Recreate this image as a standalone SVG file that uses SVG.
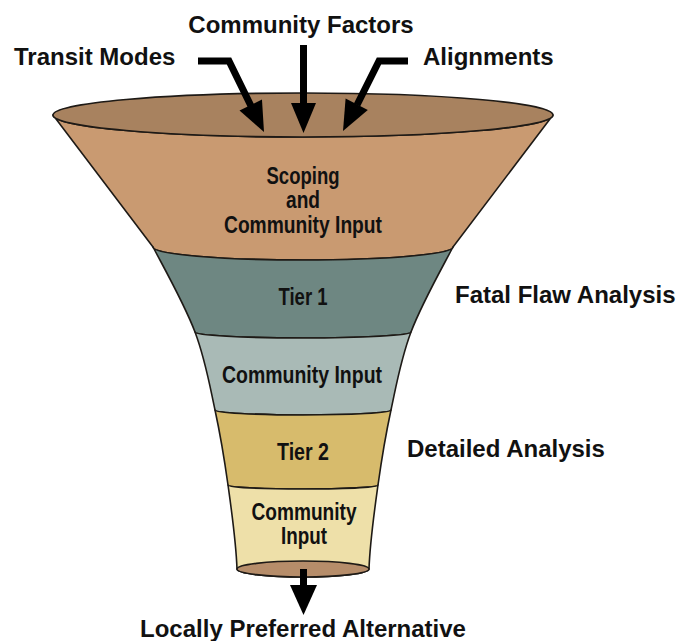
<svg xmlns="http://www.w3.org/2000/svg" width="687" height="641" viewBox="0 0 687 641">
  <style>
    .band { stroke: #1e1a16; stroke-width: 1.6; stroke-linejoin: round; }
    .label { font-family: "Liberation Sans", Arial, sans-serif; font-weight: bold; font-size: 24px; fill: #111; }
    .inner { font-family: "Liberation Sans", Arial, sans-serif; font-weight: bold; font-size: 23px; fill: #111; text-anchor: middle; }
    .shaft { fill: none; stroke: #000; stroke-width: 7; stroke-linejoin: miter; }
    .head { fill: #000; }
  </style>

  <rect width="687" height="641" fill="#fff"/>

  <!-- Funnel bands, top to bottom -->
  <g id="scoping">
    <path class="band" fill="#c99a71" d="M53,115 A250,22 0 0 0 553,115 L453,247 A150,13 0 0 1 153,247 Z"/>
    <ellipse class="band" cx="303" cy="115" rx="250" ry="22" fill="#a8825f"/>
    <text class="inner" x="303" y="184" textLength="73" lengthAdjust="spacingAndGlyphs">Scoping</text>
    <text class="inner" x="303" y="208" textLength="34" lengthAdjust="spacingAndGlyphs">and</text>
    <text class="inner" x="303" y="233" textLength="158" lengthAdjust="spacingAndGlyphs">Community Input</text>
  </g>

  <g id="tier1">
    <path class="band" fill="#6e8782" d="M153,247 A150,13 0 0 0 453,247 C438,275.3 421.3,304.8 411,332 A108,6 0 0 1 195,332 C184.7,304.8 168,275.3 153,247 Z"/>
    <text class="inner" x="303" y="305" textLength="49" lengthAdjust="spacingAndGlyphs">Tier 1</text>
  </g>

  <g id="community-input-1">
    <path class="band" fill="#a9bab6" d="M195,332 A108,6 0 0 0 411,332 C400.7,359.2 396.5,384.5 391,410 A88,5 0 0 1 215,410 C209.5,384.5 205.3,359.2 195,332 Z"/>
    <text class="inner" x="302" y="383" textLength="160" lengthAdjust="spacingAndGlyphs">Community Input</text>
  </g>

  <g id="tier2">
    <path class="band" fill="#d7bb6c" d="M215,410 A88,5 0 0 0 391,410 C385.5,435.5 381.7,458.5 378,485 A75,4 0 0 1 228,485 C224.3,458.5 220.5,435.5 215,410 Z"/>
    <text class="inner" x="303" y="460" textLength="52" lengthAdjust="spacingAndGlyphs">Tier 2</text>
  </g>

  <g id="community-input-2">
    <path class="band" fill="#eee0a9" d="M228,485 A75,4 0 0 0 378,485 C374.3,511.5 370,541 369,569 A66,8 0 0 1 237,569 C236,541 231.7,511.5 228,485 Z"/>
    <ellipse class="band" cx="303" cy="569" rx="66" ry="8" fill="#b68d6a"/>
    <text class="inner" x="304" y="520" textLength="105" lengthAdjust="spacingAndGlyphs">Community</text>
    <text class="inner" x="304" y="544" textLength="46" lengthAdjust="spacingAndGlyphs">Input</text>
  </g>

  <!-- Input and stage labels -->
  <g id="transit-modes"><text class="label" x="14" y="65">Transit Modes</text></g>
  <g id="community-factors"><text class="label" x="301" y="33" text-anchor="middle">Community Factors</text></g>
  <g id="alignments"><text class="label" x="423" y="65">Alignments</text></g>
  <g id="fatal-flaw"><text class="label" x="455" y="303">Fatal Flaw Analysis</text></g>
  <g id="detailed"><text class="label" x="407" y="457">Detailed Analysis</text></g>
  <g id="lpa"><text class="label" x="303" y="637" text-anchor="middle">Locally Preferred Alternative</text></g>

  <!-- Connectors -->
  <g id="connectors">
    <path class="shaft" d="M198,61 H229 L251,106"/>
    <polygon class="head" points="262,99.6 239.5,110.6 264,132"/>

    <path class="shaft" d="M303.5,45 V104"/>
    <polygon class="head" points="291,103 316,103 303.5,133"/>

    <path class="shaft" d="M408,61 H379 L357,105"/>
    <polygon class="head" points="345.6,98.6 367.8,110 343,131"/>

    <path class="shaft" d="M303.5,569 V586"/>
    <polygon class="head" points="290,585 317,585 303.5,615"/>
  </g>
</svg>
